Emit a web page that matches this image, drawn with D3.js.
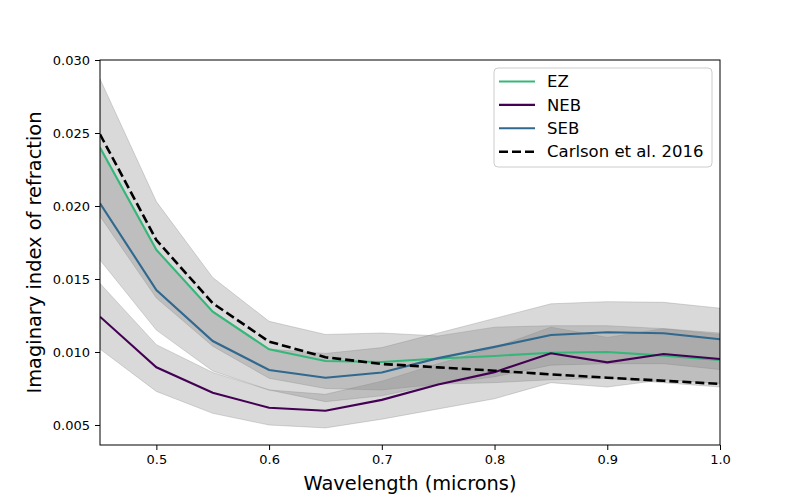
<!DOCTYPE html>
<html>
<head>
<meta charset="utf-8">
<script src="https://cdn.jsdelivr.net/npm/d3@7"></script>
<style>
	body { margin: 0; background: #fff; }
	svg { font-family: "DejaVu Sans", sans-serif; }
</style>
</head>
<body>
<svg width="800" height="500"></svg>
<script>
// wavelengths (microns)
var wavelengths = [0.45, 0.5, 0.55, 0.6, 0.65, 0.7, 0.75, 0.8, 0.85, 0.9, 0.95, 1.0];

// imaginary index per region
var ez      = [0.0240, 0.0170, 0.01276, 0.01018, 0.00938, 0.00932, 0.00955, 0.00973, 0.00995, 0.0100, 0.00975, 0.00945];
var neb     = [0.01242, 0.00895, 0.00721, 0.00618, 0.00598, 0.00672, 0.00778, 0.00862, 0.00991, 0.00929, 0.00986, 0.00952];
var seb     = [0.02018, 0.01425, 0.01075, 0.00877, 0.00824, 0.00860, 0.00958, 0.01035, 0.01116, 0.01135, 0.01128, 0.01087];
var carlson = [0.02491, 0.01767, 0.01334, 0.01071, 0.00964, 0.00918, 0.00895, 0.00872, 0.00847, 0.00824, 0.00803, 0.00781];

// uncertainty envelopes
var ezHigh  = [0.0287, 0.0203, 0.0151, 0.0121, 0.0112, 0.0113, 0.0111, 0.0117, 0.0118, 0.0118, 0.0116, 0.0113];
var ezLow   = [0.0193, 0.0137, 0.0104, 0.0082, 0.0075, 0.0074, 0.0078, 0.0079, 0.0081, 0.0082, 0.0079, 0.0076];
var sebHigh = [0.0240, 0.0170, 0.0128, 0.0102, 0.0099, 0.0103, 0.0113, 0.0123, 0.0133, 0.01345, 0.0134, 0.0130];
var sebLow  = [0.0163, 0.0115, 0.0087, 0.0074, 0.0066, 0.0070, 0.0078, 0.0083, 0.0091, 0.0092, 0.0092, 0.0088];
var nebHigh = [0.0147, 0.0105, 0.0086, 0.0074, 0.0071, 0.0080, 0.0092, 0.0103, 0.0117, 0.0110, 0.0116, 0.0112];
var nebLow  = [0.0102, 0.0073, 0.0058, 0.0050, 0.0048, 0.0054, 0.0061, 0.0068, 0.0079, 0.0076, 0.0081, 0.00785];

var xTicks = [0.5, 0.6, 0.7, 0.8, 0.9, 1.0];
var yTicks = [0.005, 0.010, 0.015, 0.020, 0.025, 0.030];

var series = [
	{name: 'EZ', values: ez, color: '#35b779', dash: null},
	{name: 'NEB', values: neb, color: '#440154', dash: null},
	{name: 'SEB', values: seb, color: '#31688e', dash: null},
	{name: 'Carlson et al. 2016', values: carlson, color: '#000000', dash: '9,4'}
];
var bands = [
	{low: ezLow, high: ezHigh},
	{low: nebLow, high: nebHigh},
	{low: sebLow, high: sebHigh}
];

var margin = {left: 100, right: 80, top: 60, bottom: 55};
var width = 800 - margin.left - margin.right;
var height = 500 - margin.top - margin.bottom;

var x = d3.scaleLinear().domain([0.45, 1.0]).range([0, width]);
var y = d3.scaleLinear().domain([0.00363, 0.030]).range([height, 0]);

var svg = d3.select('svg');
var g = svg.append('g').attr('transform', 'translate(' + margin.left + ',' + margin.top + ')');

g.append('clipPath').attr('id', 'clip')
	.append('rect').attr('width', width).attr('height', height);

var plot = g.append('g').attr('clip-path', 'url(#clip)');

function draw() {
	drawBands();
	drawLines();
	drawAxes();
	drawLegend();
}

function drawBands() {
	var area = d3.area()
		.x(function(d, i) {return x(wavelengths[i])})
		.y0(function(d) {return y(d[0])})
		.y1(function(d) {return y(d[1])});
	plot.selectAll('path.band').data(bands).enter().append('path')
		.attr('class', 'band')
		.attr('d', function(b) {return area(b.low.map(function(v, i) {return [v, b.high[i]]}))})
		.attr('fill', 'rgba(128,128,128,0.3)')
		.attr('stroke', 'rgba(128,128,128,0.3)')
		.attr('stroke-width', 1);
}

function drawLines() {
	var line = d3.line()
		.x(function(d, i) {return x(wavelengths[i])})
		.y(function(d) {return y(d)});
	plot.selectAll('path.series').data(series).enter().append('path')
		.attr('class', 'series')
		.attr('fill', 'none')
		.attr('d', function(s) {return line(s.values)})
		.attr('stroke', function(s) {return s.color})
		.attr('stroke-width', function(s) {return s.dash ? 2.6 : 2.1})
		.attr('stroke-dasharray', function(s) {return s.dash});
}

function drawAxes() {
	var xAxis = g.append('g').attr('transform', 'translate(0,' + height + ')')
		.call(d3.axisBottom(x).tickValues(xTicks).tickFormat(d3.format('.1f')).tickSizeOuter(0).tickSize(5).tickPadding(5));
	var yAxis = g.append('g')
		.call(d3.axisLeft(y).tickValues(yTicks).tickFormat(d3.format('.3f')).tickSizeOuter(0).tickSize(5).tickPadding(5));
	[xAxis, yAxis].forEach(function(ax) {
		ax.select('.domain').remove();
		ax.selectAll('text').attr('font-size', 13).attr('font-family', '"DejaVu Sans", sans-serif').attr('fill', '#000');
		ax.selectAll('line').attr('stroke', '#000').attr('stroke-width', 1);
	});

	// frame
	g.append('rect').attr('width', width).attr('height', height)
		.attr('fill', 'none').attr('stroke', '#000').attr('stroke-width', 1);

	g.append('text')
		.attr('x', width / 2).attr('y', height + 45)
		.attr('text-anchor', 'middle').attr('font-size', 19.4)
		.text('Wavelength (microns)');
	g.append('text')
		.attr('transform', 'translate(-59,' + (height / 2) + ') rotate(-90)')
		.attr('text-anchor', 'middle').attr('font-size', 19.4)
		.text('Imaginary index of refraction');
}

function drawLegend() {
	var lg = svg.append('g').attr('transform', 'translate(494,68)');
	lg.append('rect').attr('width', 218).attr('height', 99).attr('rx', 4)
		.attr('fill', 'rgba(255,255,255,0.8)').attr('stroke', '#cccccc').attr('stroke-width', 1);
	var rows = lg.selectAll('g.row').data(series).enter().append('g')
		.attr('class', 'row')
		.attr('transform', function(d, i) {return 'translate(0,' + (13.5 + i * 23.4) + ')'});
	rows.append('line')
		.attr('x1', 5).attr('x2', 41)
		.attr('stroke', function(s) {return s.color})
		.attr('stroke-width', function(s) {return s.dash ? 2.6 : 2.1})
		.attr('stroke-dasharray', function(s) {return s.dash});
	rows.append('text')
		.attr('x', 53).attr('dy', '0.35em')
		.attr('font-size', 16.5)
		.text(function(s) {return s.name});
}

draw();
</script>
</body>
</html>
